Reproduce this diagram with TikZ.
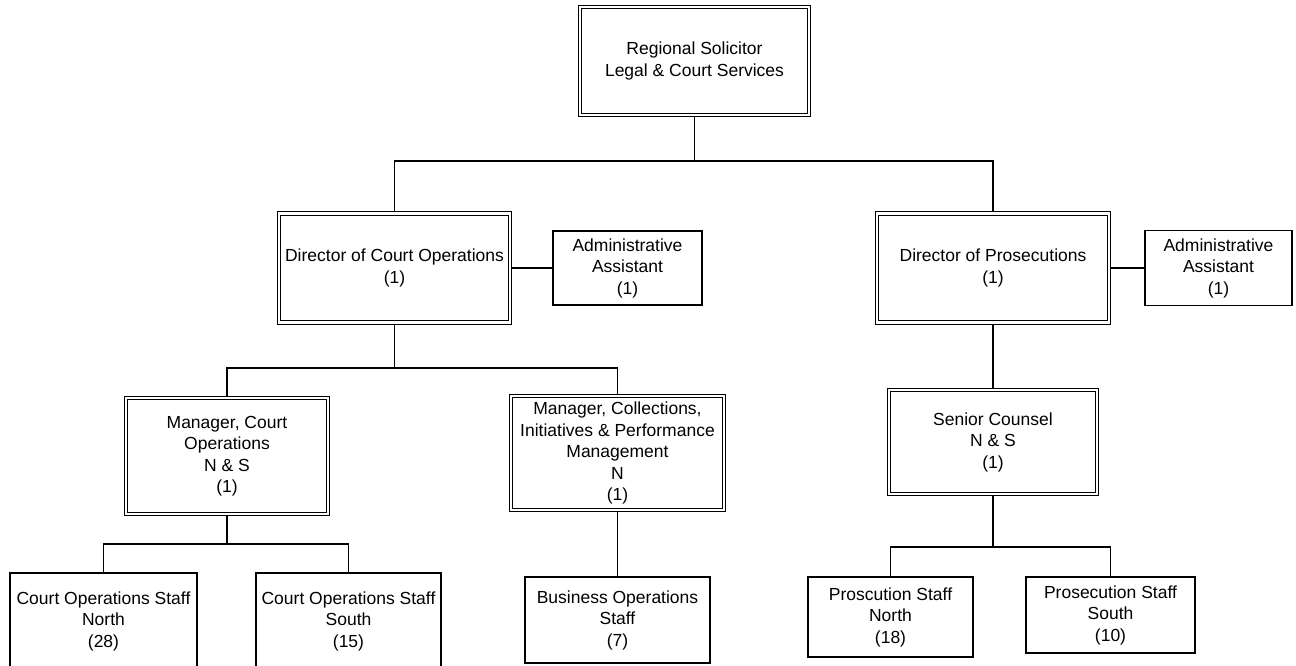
\documentclass[tikz,border=0pt]{standalone}
\usepackage{fontspec}
\setmainfont{Liberation Sans}
\begin{document}
\begin{tikzpicture}[x=1pt, y=-1pt,
        box/.style={draw, line width=1.2pt, align=center, inner sep=2pt,
            font=\fontsize{17.5}{21.5}\selectfont},
        dbox/.style={box, line width=1pt, double, double distance=2.5pt, outer sep=2.25pt}]
        \useasboundingbox (0,0) rectangle (1296,665);

        \node[dbox, minimum width=229pt, minimum height=108pt] (rs) at (694.5,61) {Regional Solicitor\\Legal \& Court Services};
        \node[dbox, minimum width=231pt, minimum height=109pt] (dco) at (394.5,268) {Director of Court Operations\\(1)};
        \node[box, minimum width=149pt, minimum height=74pt] (aa1) at (627.5,268) {Administrative\\Assistant\\(1)};
        \node[dbox, minimum width=232pt, minimum height=109pt] (dp) at (993,268) {Director of Prosecutions\\(1)};
        \node[box, minimum width=147pt, minimum height=75pt] (aa2) at (1218.5,268) {Administrative\\Assistant\\(1)};
        \node[dbox, minimum width=202pt, minimum height=116pt] (mco) at (227,456) {Manager, Court\\Operations\\N \& S\\(1)};
        \node[dbox, minimum width=213pt, minimum height=114pt] (mcipm) at (617.5,453) {Manager, Collections,\\Initiatives \& Performance\\Management\\N\\(1)};
        \node[dbox, minimum width=208pt, minimum height=104pt] (sc) at (993,442) {Senior Counsel\\N \& S\\(1)};
        \node[box, minimum width=187pt, minimum height=96pt] (cosn) at (103.5,621) {Court Operations Staff\\North\\(28)};
        \node[box, minimum width=185pt, minimum height=96pt] (coss) at (348.5,621) {Court Operations Staff\\South\\(15)};
        \node[box, minimum width=185pt, minimum height=86pt] (bos) at (617.5,620) {Business Operations\\Staff\\(7)};
        \node[box, minimum width=165pt, minimum height=80pt] (psn) at (890.5,617) {Proscution Staff\\North\\(18)};
        \node[box, minimum width=169pt, minimum height=76pt] (pss) at (1110.5,615) {Prosecution Staff\\South\\(10)};

        \coordinate (j1) at (694.5,161);
        \coordinate (j2) at (394.5,368);
        \coordinate (j3) at (227,544);
        \coordinate (j4) at (993,547);

        \begin{scope}[line width=1.2pt]
        \draw (rs.south) -- (j1);
        \draw (dco.north) |- (j1) -| (dp.north);
        \draw (dco.east) -- (aa1.west);
        \draw (dp.east) -- (aa2.west);
        \draw (dco.south) -- (j2);
        \draw (mco.north) |- (j2) -| (mcipm.north);
        \draw (mco.south) -- (j3);
        \draw (cosn.north) |- (j3) -| (coss.north);
        \draw (mcipm.south) -- (bos.north);
        \draw (dp.south) -- (sc.north);
        \draw (sc.south) -- (j4);
        \draw (psn.north) |- (j4) -| (pss.north);
        \end{scope}
    \end{tikzpicture}
\end{document}
